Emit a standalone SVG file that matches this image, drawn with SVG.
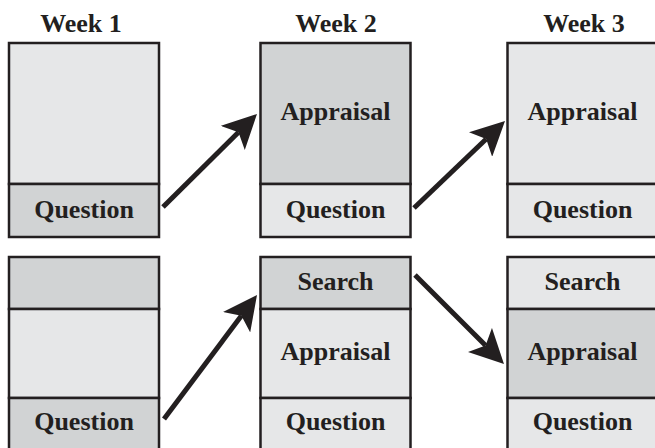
<svg xmlns="http://www.w3.org/2000/svg" width="655" height="448" viewBox="0 0 655 448">
<style>
text{font-family:"Liberation Serif","Times New Roman",serif;font-weight:bold;font-size:26px;fill:#231f20;text-anchor:middle}
.l{fill:#e6e7e8;stroke:#231f20;stroke-width:2.5}
.d{fill:#d1d3d4;stroke:#231f20;stroke-width:2.5}
.c{stroke:#231f20;stroke-width:5;fill:none;marker-end:url(#ah)}
</style>
<defs>
<marker id="ah" viewBox="0 0 34 34" refX="8" refY="17" markerWidth="34" markerHeight="34" markerUnits="userSpaceOnUse" orient="auto">
<path d="M0,0 L34,17 L0,34 L8,17 Z" fill="#231f20"/>
</marker>
</defs>
<rect width="655" height="448" fill="#fff"/>
<g id="labels">
<text x="81" y="32">Week 1</text>
<text x="336" y="32">Week 2</text>
<text x="584" y="32">Week 3</text>
</g>
<g id="w1-top">
<rect class="l" x="9" y="43" width="150" height="141"/>
<rect class="d" x="9" y="184" width="150" height="53"/>
<text x="84" y="218">Question</text>
</g>
<g id="w2-top">
<rect class="d" x="260.5" y="43" width="150" height="141"/>
<rect class="l" x="260.5" y="184" width="150" height="53"/>
<text x="335.5" y="120">Appraisal</text>
<text x="335.5" y="218">Question</text>
</g>
<g id="w3-top">
<rect class="l" x="507.5" y="43" width="150" height="141"/>
<rect class="l" x="507.5" y="184" width="150" height="53"/>
<text x="582.5" y="120">Appraisal</text>
<text x="582.5" y="218">Question</text>
</g>
<g id="w1-bottom">
<rect class="d" x="9" y="257" width="150" height="52"/>
<rect class="l" x="9" y="309" width="150" height="89"/>
<rect class="d" x="9" y="398" width="150" height="53"/>
<text x="84" y="430">Question</text>
</g>
<g id="w2-bottom">
<rect class="d" x="260.5" y="257" width="150" height="52"/>
<rect class="l" x="260.5" y="309" width="150" height="89"/>
<rect class="l" x="260.5" y="398" width="150" height="53"/>
<text x="335.5" y="290">Search</text>
<text x="335.5" y="360">Appraisal</text>
<text x="335.5" y="430">Question</text>
</g>
<g id="w3-bottom">
<rect class="l" x="507.5" y="257" width="150" height="52"/>
<rect class="d" x="507.5" y="309" width="150" height="89"/>
<rect class="l" x="507.5" y="398" width="150" height="53"/>
<text x="582.5" y="290">Search</text>
<text x="582.5" y="360">Appraisal</text>
<text x="582.5" y="430">Question</text>
</g>
<g id="connectors">
<line class="c" x1="163" y1="207" x2="238.5" y2="132.3"/>
<line class="c" x1="414" y1="208" x2="486.2" y2="139"/>
<line class="c" x1="164" y1="419" x2="241.4" y2="315.8"/>
<line class="c" x1="415" y1="275" x2="485.6" y2="345.6"/>
</g>
</svg>
